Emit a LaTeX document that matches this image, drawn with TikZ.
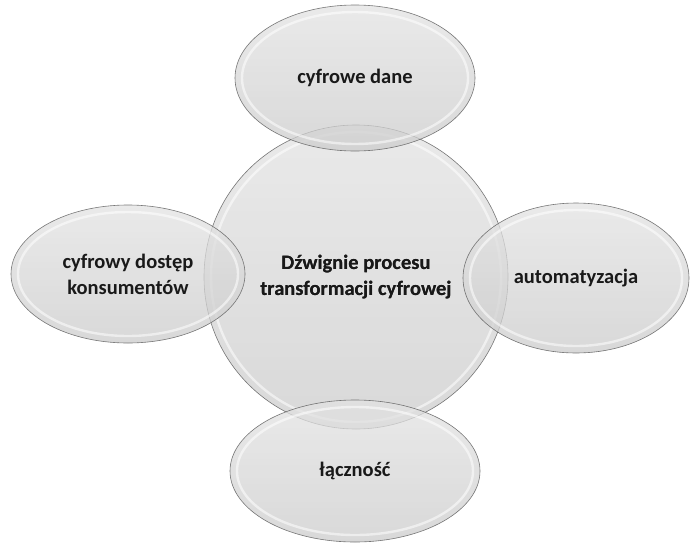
\documentclass[tikz,border=0pt]{standalone}
\usepackage{fontspec}
\setmainfont{Carlito}
\usetikzlibrary{shapes.geometric}
\tikzset{
  lbl/.style={font=\bfseries\fontsize{20.5}{26}\selectfont, text=black!90, align=center},
  bubble/.style={ellipse, draw=gray!70!black, line width=0.6pt,
    top color=gray!22, bottom color=gray!40, fill opacity=0.75, draw opacity=0.8,
    text opacity=1, lbl, inner sep=0pt},
  rim/.style={draw=white, line width=2.4pt, opacity=0.55}
}
\begin{document}
\begin{tikzpicture}[x=1pt,y=-1pt]
\useasboundingbox[fill=white] (0,0) rectangle (690,552);
% central circle
\node[bubble, minimum width=304pt, minimum height=304pt] (c) at (356,277) {Dźwignie procesu\\transformacji cyfrowej};
\draw[rim] (c.center) ellipse [x radius=145, y radius=145];
% satellites
\node[bubble, minimum width=240pt, minimum height=146pt] (t) at (355,78) {cyfrowe dane};
\draw[rim] (t.center) ellipse [x radius=113, y radius=66];
\node[bubble, minimum width=234pt, minimum height=138pt] (l) at (128,274) {cyfrowy dostęp\\konsumentów};
\draw[rim] (l.center) ellipse [x radius=110, y radius=62];
\node[bubble, minimum width=226pt, minimum height=150pt] (r) at (576,278) {automatyzacja};
\draw[rim] (r.center) ellipse [x radius=106, y radius=68];
\node[bubble, minimum width=250pt, minimum height=142pt] (b) at (355,471) {łączność};
\draw[rim] (b.center) ellipse [x radius=118, y radius=64];
% central text on top
\node[lbl] (ct) at (c.center) {Dźwignie procesu\\transformacji cyfrowej};
\end{tikzpicture}
\end{document}
